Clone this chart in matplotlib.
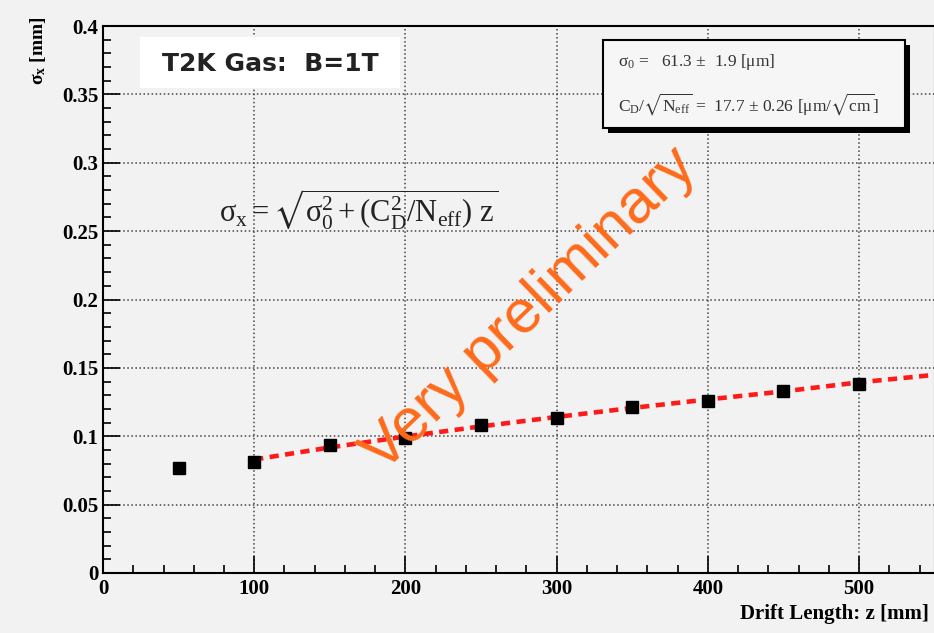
import matplotlib
matplotlib.use('Agg')
import matplotlib.pyplot as plt
from matplotlib.patches import Rectangle
from matplotlib.ticker import MultipleLocator

# measured points
z = [50, 100, 150, 200, 250, 300, 350, 400, 450, 500]
sigma_x = [0.0768, 0.0812, 0.0936, 0.0987, 0.1080, 0.1134, 0.1214, 0.1260, 0.1330, 0.1385]

# fit curve
fit_z = [100, 150, 200, 250, 300, 350, 400, 450, 500, 550]
fit_sigma = [0.0830, 0.0918, 0.0998, 0.1072, 0.1141, 0.1207, 0.1269, 0.1328, 0.1394, 0.1449]

xticks = [0, 100, 200, 300, 400, 500]
yticks = [0, 0.05, 0.1, 0.15, 0.2, 0.25, 0.3, 0.35, 0.4]
ytick_labels = ['0', '0.05', '0.1', '0.15', '0.2', '0.25', '0.3', '0.35', '0.4']

bg = '#f2f2f2'
plt.rcParams['font.family'] = ['Liberation Serif', 'DejaVu Serif']
plt.rcParams['mathtext.fontset'] = 'stix'
plt.rcParams['mathtext.default'] = 'regular'

fig = plt.figure(figsize=(9.34, 6.33), dpi=100, facecolor=bg)
ax = fig.add_axes([0.1103, 0.0948, 0.8904, 0.8641])
ax.set_facecolor(bg)

ax.plot(fit_z, fit_sigma, color='#ff1a1a', lw=3.3, linestyle=(0, (2, 1.4)), zorder=3)
ax.plot(z, sigma_x, 's', color='black', markersize=8, zorder=4)

ax.set_xlim(0, 550)
ax.set_ylim(0, 0.4)
ax.set_xticks(xticks)
ax.set_yticks(yticks)
ax.set_yticklabels(ytick_labels)
ax.xaxis.set_minor_locator(MultipleLocator(20))
ax.yaxis.set_minor_locator(MultipleLocator(0.01))
ax.tick_params(which='major', direction='in', length=12, width=1.2, labelsize=15)
ax.tick_params(which='minor', direction='in', length=6, width=1.2)
for lab in ax.get_xticklabels() + ax.get_yticklabels():
    lab.set_fontweight('bold')
ax.tick_params(axis='x', pad=4)
ax.grid(True, which='major', color='#444444', linestyle=':', lw=1.1)
for s in ax.spines.values():
    s.set_linewidth(1.5)

fig.text(0.03, 0.975, r'$\sigma_{x}$ [mm]', rotation=90, ha='left', va='top', fontsize=14,
         fontweight='bold')
fig.text(0.995, 0.03, 'Drift Length: z [mm]', ha='right', va='center', fontsize=15,
         fontweight='bold')

# title box
ax.add_patch(Rectangle((140 / 934, 1 - 88 / 633), 260 / 934, 51 / 633, transform=fig.transFigure,
                       facecolor='white', edgecolor='none', zorder=5, clip_on=False))
fig.text(270 / 934, 1 - 64 / 633, 'T2K Gas:  B=1T', ha='center', va='center', fontsize=18,
         fontweight='bold', family='DejaVu Sans', color='#222222', zorder=6)

# stat box
ax.add_patch(Rectangle((608 / 934, 1 - 133 / 633), 302 / 934, 88 / 633, transform=fig.transFigure,
                       facecolor='black', edgecolor='none', zorder=5, clip_on=False))
ax.add_patch(Rectangle((603 / 934, 1 - 128 / 633), 302 / 934, 88 / 633, transform=fig.transFigure,
                       facecolor='#f6f6f6', edgecolor='black', lw=1.5, zorder=6, clip_on=False))
fig.text(618 / 934, 1 - 62 / 633, r'$\sigma_{0}$ =   61.3 $\pm$  1.9 [$\mu$m]', ha='left',
         va='center', fontsize=12.5, color='#333333', zorder=7)
fig.text(618 / 934, 1 - 104 / 633,
         r'$C_{D}/\sqrt{N_{eff}}$ =  17.7 $\pm$ 0.26 [$\mu$m/$\sqrt{cm}$]', ha='left',
         va='center', fontsize=12.5, color='#333333', zorder=7)

# formula
ax.text(77, 0.266, r'$\sigma_{x} =\sqrt{\sigma_{0}^{2}+(C_{D}^{2}/N_{eff})\ z}$', fontsize=22,
        ha='left', va='center', color='#222222', zorder=5)

ax.text(282, 0.192, 'Very preliminary', rotation=44, fontsize=44, color='#ff6a1a',
        family='Liberation Sans', ha='center', va='center', zorder=6)

fig.savefig('out.png', dpi=100, facecolor=bg)
